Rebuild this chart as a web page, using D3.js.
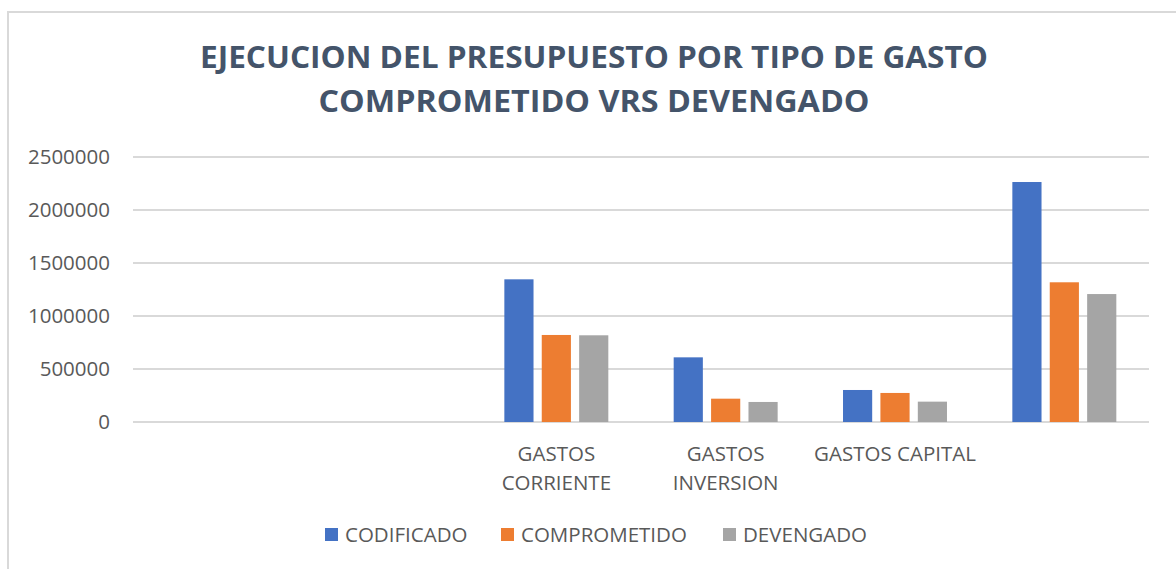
<!DOCTYPE html>
<html>
<head>
<meta charset="utf-8">
<script src="https://cdn.jsdelivr.net/npm/d3@7"></script>
<style>
  body { margin: 0; background: #fff; }
  text { font-family: "Open Sans", sans-serif; }
</style>
</head>
<body>
<div id="container"></div>
<script>
let w = 1176;
let h = 569;

// data
let categories = ["", "", "GASTOS CORRIENTE", "GASTOS INVERSION", "GASTOS CAPITAL", " "];
let seriesNames = ["CODIFICADO", "COMPROMETIDO", "DEVENGADO"];
let codificado   = [null, null, 1346000, 610000, 302000, 2264000];
let comprometido = [null, null, 821000, 220000, 274000, 1318000];
let devengado    = [null, null, 818000, 189000, 192000, 1207000];
let yTicks = [0, 500000, 1000000, 1500000, 2000000, 2500000];
let titleLines = ["EJECUCION DEL PRESUPUESTO POR TIPO DE GASTO", "COMPROMETIDO VRS DEVENGADO"];
let colors = ["#4472C4", "#ED7D31", "#A5A5A5"];

let seriesValues = [codificado, comprometido, devengado];

let viz = d3.select("#container")
  .append("svg")
    .attr("width", w)
    .attr("height", h)
;

// chart area border
viz.append("path")
  .attr("d", "M8," + h + " V12 H" + w)
  .attr("fill", "none")
  .attr("stroke", "#D9D9D9")
  .attr("stroke-width", 2)
;

// title (narrow Calibri look: squeeze to the reference widths)
let titleWidths = [788, 551];
viz.append("g").selectAll("text").data(titleLines).enter()
  .append("text")
    .text(function(d){ return d; })
    .attr("x", 594)
    .attr("y", function(d,i){ return 68 + i*44; })
    .attr("text-anchor", "middle")
    .attr("font-size", "30px")
    .attr("font-weight", "bold")
    .attr("fill", "#44546A")
    .attr("textLength", function(d,i){ return titleWidths[i]; })
    .attr("lengthAdjust", "spacingAndGlyphs")
;

let left = 133;
let right = 1149;
let yScale = d3.scaleLinear().domain([0, 2500000]).range([422, 157]);
let xScale = d3.scaleBand().domain(d3.range(categories.length)).range([left, right])
  .paddingInner(0.386).paddingOuter(0.193);
let xSub = d3.scaleBand().domain(d3.range(seriesNames.length)).range([0, xScale.bandwidth()])
  .paddingInner(0.22);

// gridlines
viz.append("g").selectAll("line").data(yTicks).enter()
  .append("line")
    .attr("x1", left)
    .attr("x2", right)
    .attr("y1", function(d){ return yScale(d); })
    .attr("y2", function(d){ return yScale(d); })
    .attr("stroke", "#D9D9D9")
    .attr("stroke-width", 2)
;

// y axis labels
let yAxis = d3.axisLeft(yScale).tickValues(yTicks).tickSize(0).tickPadding(0).tickFormat(d3.format("d"));
let yAxisGroup = viz.append("g").attr("transform", "translate(110,0)").call(yAxis);
yAxisGroup.select(".domain").remove();
yAxisGroup.selectAll("text")
  .attr("font-family", "'Open Sans', sans-serif")
  .attr("font-size", "20.5px")
  .attr("fill", "#595959")
;

// bars
let groups = viz.append("g").selectAll("g").data(seriesValues).enter()
  .append("g")
    .attr("fill", function(d,i){ return colors[i]; })
;
groups.each(function(vals, si){
  d3.select(this).selectAll("rect")
    .data(vals.map(function(v,ci){ return {v: v, ci: ci}; }).filter(function(d){ return d.v != null; }))
    .enter()
    .append("rect")
      .attr("x", function(d){ return xScale(d.ci) + xSub(si); })
      .attr("width", xSub.bandwidth())
      .attr("y", function(d){ return yScale(d.v); })
      .attr("height", function(d){ return yScale(0) - yScale(d.v); })
  ;
});

// category labels, wrapped to band width
let step = xScale.step();
let catGroup = viz.append("g");
categories.forEach(function(c, i){
  let cx = xScale(i) + xScale.bandwidth()/2;
  let t = catGroup.append("text")
    .attr("x", cx)
    .attr("y", 461)
    .attr("text-anchor", "middle")
    .attr("font-size", "20.5px")
    .attr("fill", "#595959")
    .text(c);
  if (t.node().getComputedTextLength() > step) {
    let words = c.split(" ");
    t.text(null);
    words.forEach(function(wd, k){
      t.append("tspan").attr("x", cx).attr("dy", k == 0 ? 0 : 28.5).text(wd);
    });
  }
});

// legend
let legendX = [325, 501, 723];
let legend = viz.append("g").selectAll("g").data(seriesNames).enter()
  .append("g")
    .attr("transform", function(d,i){ return "translate(" + legendX[i] + ",534)"; })
;
legend.append("rect")
  .attr("x", 0).attr("y", -6)
  .attr("width", 13).attr("height", 13)
  .attr("fill", function(d,i){ return colors[i]; })
;
legend.append("text")
  .text(function(d){ return d; })
  .attr("x", 20)
  .attr("y", 8)
  .attr("font-size", "20.5px")
  .attr("fill", "#595959")
;
</script>
</body>
</html>
